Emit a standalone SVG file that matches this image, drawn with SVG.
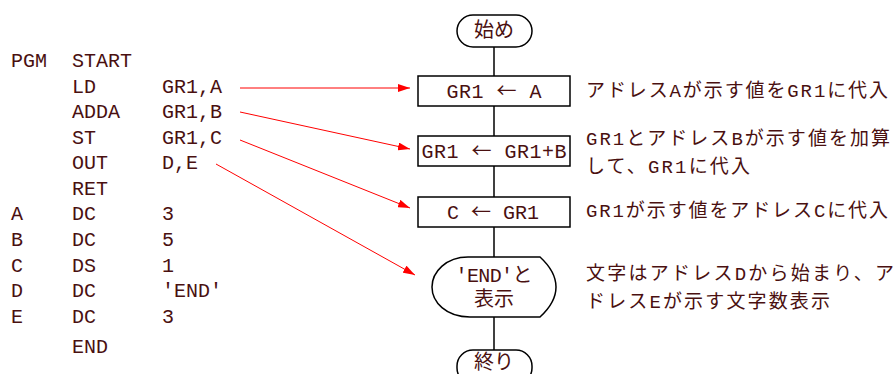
<svg xmlns="http://www.w3.org/2000/svg" width="895" height="374" viewBox="0 0 895 374">
<defs>
<style>
.code{font-family:"Liberation Mono","Noto Sans CJK JP",monospace;font-size:20px;fill:#4a1010}
.jp{font-family:"Liberation Mono","Noto Sans CJK JP",monospace;font-size:19px;fill:#4a1010}
.fl{font-family:"Liberation Mono","Noto Sans CJK JP",monospace;font-size:20px;fill:#4a1010;text-anchor:middle}
.arr{font-family:"Noto Sans CJK JP",sans-serif}
.shape{fill:#fff;stroke:#000;stroke-width:1.5}
.flow{stroke:#000;stroke-width:1.5;fill:none}
.ref{stroke:#ff0000;stroke-width:1;fill:none;marker-end:url(#ah)}
</style>
<marker id="ah" viewBox="0 0 12 8" refX="12" refY="4" markerWidth="12" markerHeight="8" markerUnits="userSpaceOnUse" orient="auto">
<path d="M0,0 L12,4 L0,8 Z" fill="#ff0000"/>
</marker>
</defs>
<rect width="895" height="374" fill="#fff"/>
<g id="program">
<text class="code" x="11" y="67">PGM</text><text class="code" x="72" y="67">START</text>
<text class="code" x="72" y="93">LD</text><text class="code" x="162" y="93">GR1,A</text>
<text class="code" x="72" y="118">ADDA</text><text class="code" x="162" y="118">GR1,B</text>
<text class="code" x="72" y="144">ST</text><text class="code" x="162" y="144">GR1,C</text>
<text class="code" x="72" y="169">OUT</text><text class="code" x="162" y="169">D,E</text>
<text class="code" x="72" y="195">RET</text>
<text class="code" x="11" y="220">A</text><text class="code" x="72" y="220">DC</text><text class="code" x="162" y="220">3</text>
<text class="code" x="11" y="246">B</text><text class="code" x="72" y="246">DC</text><text class="code" x="162" y="246">5</text>
<text class="code" x="11" y="272">C</text><text class="code" x="72" y="272">DS</text><text class="code" x="162" y="272">1</text>
<text class="code" x="11" y="297">D</text><text class="code" x="72" y="297">DC</text><text class="code" x="162" y="297">'END'</text>
<text class="code" x="11" y="323">E</text><text class="code" x="72" y="323">DC</text><text class="code" x="162" y="323">3</text>
<text class="code" x="72" y="353">END</text>
</g>
<g id="connectors">
<line class="flow" x1="494" y1="47" x2="494" y2="352"/>
<line class="ref" x1="240" y1="88" x2="410" y2="88"/>
<line class="ref" x1="240" y1="112" x2="410" y2="149"/>
<line class="ref" x1="240" y1="140" x2="410" y2="208"/>
<line class="ref" x1="216" y1="164" x2="415" y2="275"/>
</g>
<g id="start">
<rect class="shape" x="457" y="15" width="75" height="32" rx="16"/>
<text class="fl" x="494" y="37">始め</text>
</g>
<g id="step1">
<rect class="shape" x="418" y="76" width="152" height="30"/>
<text class="fl" x="494" y="98" textLength="95" lengthAdjust="spacing">GR1 <tspan class="arr">←</tspan> A</text>
</g>
<g id="step2">
<rect class="shape" x="418" y="136" width="152" height="30"/>
<text class="fl" x="494" y="158" textLength="145" lengthAdjust="spacing">GR1 <tspan class="arr">←</tspan> GR1+B</text>
</g>
<g id="step3">
<rect class="shape" x="418" y="197" width="152" height="30"/>
<text class="fl" x="493" y="219" textLength="92" lengthAdjust="spacing">C <tspan class="arr">←</tspan> GR1</text>
</g>
<g id="display">
<path class="shape" d="M468,257 L540,257 C552,268 556,278 556,287 C556,296 552,306 540,317 L470,317 C446,317 432,302 432,287 C432,272 446,257 468,257 Z"/>
<text class="fl" x="494" y="282" textLength="77" lengthAdjust="spacing">'END'と</text>
<text class="fl" x="494" y="306">表示</text>
</g>
<g id="end">
<rect class="shape" x="457" y="350" width="75" height="34" rx="16"/>
<text class="fl" x="494" y="369">終り</text>
</g>
<g id="notes">
<text class="jp" x="586" y="97" textLength="302" lengthAdjust="spacing">アドレスAが示す値をGR1に代入</text>
<text class="jp" x="586" y="145" textLength="304" lengthAdjust="spacing">GR1とアドレスBが示す値を加算</text>
<text class="jp" x="586" y="173" textLength="164" lengthAdjust="spacing">して、GR1に代入</text>
<text class="jp" x="586" y="217" textLength="302" lengthAdjust="spacing">GR1が示す値をアドレスCに代入</text>
<text class="jp" x="586" y="280" textLength="308" lengthAdjust="spacing">文字はアドレスDから始まり、ア</text>
<text class="jp" x="586" y="308" textLength="244" lengthAdjust="spacing">ドレスEが示す文字数表示</text>
</g>
</svg>
